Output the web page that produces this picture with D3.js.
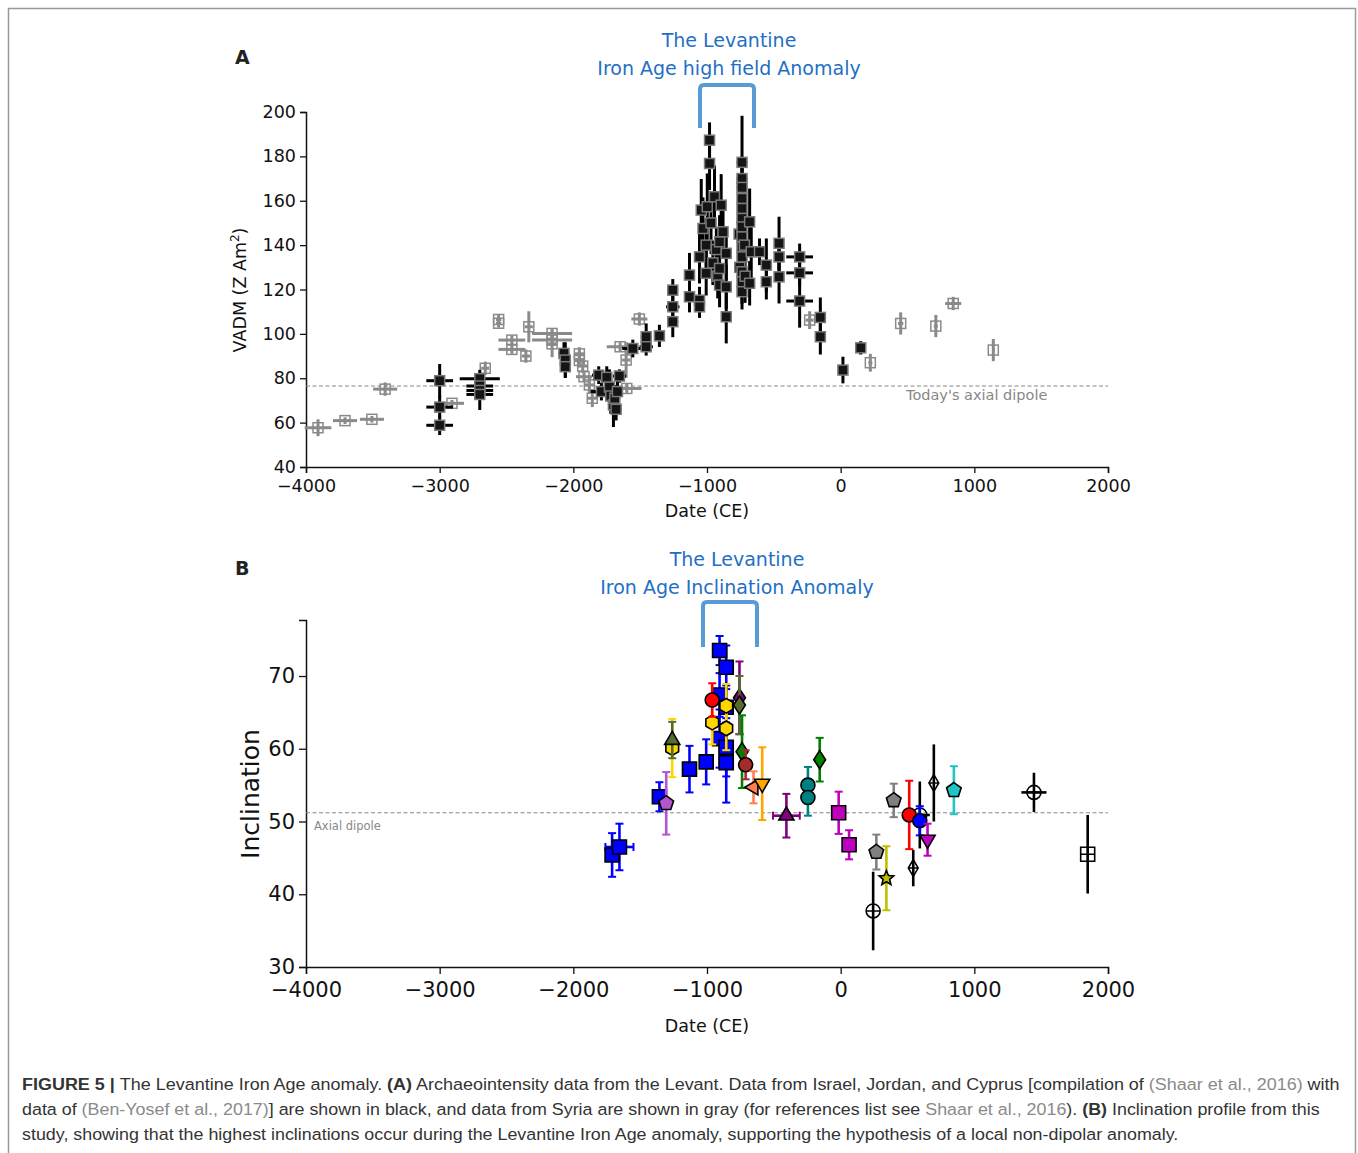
<!DOCTYPE html>
<html>
<head>
<meta charset="utf-8">
<script src="https://cdn.jsdelivr.net/npm/d3@7"></script>
<style>
  body { margin: 0; background: #fff; }
  svg { font-family: "DejaVu Sans", sans-serif; }
</style>
</head>
<body>
<script>
// ---- data: panel A, archaeointensity [date, VADM, dateErr, vadmErr]
const levantBlack = [
  [-3000, 78.9, 100, 7.5], [-3000, 67.0, 100, 5], [-3000, 58.8, 100, 4.4],
  [-2700, 79.8, 150, 4], [-2700, 76.5, 100, 4], [-2700, 74.5, 100, 3], [-2700, 72.7, 100, 7],
  [-2070, 91.2, 40, 5], [-2060, 88.2, 40, 8], [-2060, 85.2, 40, 5],
  [-1810, 81.4, 50, 4], [-1790, 74, 80, 4], [-1750, 80.4, 40, 5], [-1730, 76, 40, 8],
  [-1720, 72, 40, 8], [-1700, 68, 40, 10], [-1690, 71, 40, 6], [-1680, 66, 40, 5],
  [-1670, 74, 40, 5], [-1655, 81, 50, 3],
  [-1555, 93.4, 80, 4], [-1455, 98.7, 40, 6], [-1455, 94.2, 50, 4], [-1356, 99.1, 30, 5],
  [-1256, 119.7, 40, 5], [-1256, 112.2, 50, 6], [-1256, 105.5, 40, 7],
  [-1131, 126.5, 30, 10], [-1131, 116.7, 30, 7],
  [-1056, 115.2, 40, 6], [-1056, 112.2, 30, 5], [-1056, 134.7, 20, 12],
  [-1043, 155.8, 20, 14], [-1030, 147.5, 20, 14], [-1006, 140, 20, 12], [-1006, 127.3, 20, 10],
  [-998, 157.3, 20, 15], [-981, 187.3, 20, 8], [-981, 176.8, 20, 12], [-970, 150, 20, 14],
  [-956, 132, 20, 10], [-944, 161.8, 20, 14], [-930, 138, 20, 10], [-920, 126, 20, 10],
  [-906, 141.5, 20, 12], [-906, 129.5, 20, 10], [-906, 122, 20, 10], [-894, 158, 20, 14],
  [-880, 146, 20, 12], [-856, 136.3, 20, 12], [-856, 121.2, 20, 10], [-856, 107.7, 20, 12],
  [-760, 145, 20, 10], [-755, 130, 20, 10],
  [-738, 177.3, 40, 21], [-738, 170, 40, 10], [-738, 166, 40, 10], [-738, 161, 20, 10],
  [-738, 156.5, 20, 10], [-738, 152, 20, 10], [-738, 148.2, 20, 10], [-738, 143.7, 20, 10],
  [-738, 139.2, 20, 10], [-738, 134.7, 20, 10], [-738, 128, 20, 10], [-738, 123.5, 20, 10],
  [-738, 119, 20, 8], [-720, 140, 20, 10], [-715, 126, 20, 12],
  [-681, 150.5, 20, 15], [-681, 122.8, 20, 10], [-669, 137, 20, 12], [-607, 137, 30, 6],
  [-556, 131, 30, 12], [-556, 123.5, 30, 8],
  [-461, 140.8, 30, 12], [-461, 134.7, 30, 8], [-461, 125.7, 30, 12],
  [-307, 134.7, 100, 6], [-307, 127.5, 100, 6], [-307, 114.8, 100, 12],
  [-152, 107.4, 20, 9], [-152, 98.7, 20, 8],
  [17, 83.7, 30, 6], [150, 93.7, 40, 3]
];

const syriaGray = [
  [-3910, 57.7, 100, 3.8], [-3708, 60.9, 90, 1.5], [-3507, 61.5, 90, 1.5], [-3408, 75.1, 90, 3],
  [-2908, 68.7, 90, 1.5], [-2659, 84.5, 30, 3], [-2559, 106.5, 20, 2], [-2559, 104.8, 20, 2],
  [-2460, 97.2, 100, 2], [-2460, 93.0, 100, 2], [-2355, 90.0, 30, 3], [-2333, 103.2, 30, 7],
  [-2159, 100.2, 150, 2], [-2159, 97.2, 150, 2], [-2159, 95.5, 30, 6],
  [-1955, 91, 40, 3], [-1955, 88, 40, 3], [-1930, 85.5, 40, 3], [-1920, 80.7, 60, 2],
  [-1880, 77, 40, 4], [-1858, 71, 40, 4], [-1600, 75.4, 110, 2], [-1605, 88.2, 30, 8],
  [-1650, 94.2, 100, 2], [-1506, 106.7, 60, 3],
  [-232, 106.2, 30, 4], [222, 87, 15, 4], [449, 104.7, 20, 5], [712, 103.5, 15, 5],
  [842, 113.7, 60, 3], [1142, 92.7, 10, 5]
];

// ---- data: panel B, inclination [date, inclination, dateErr, incErr]
const blueSquares = [
  [-1710, 45.4, 25, 3], [-1655, 46.5, 105, 3.2], [-1356, 53.4, 30, 2], [-1131, 57.2, 0, 3.2],
  [-1006, 58.2, 0, 3.1], [-906, 73.5, 0, 2], [-856, 71.2, 0, 3], [-906, 67.4, 0, 3],
  [-856, 65.7, 0, 3], [-906, 61.4, 0, 4], [-856, 60.2, 0, 4], [-856, 58.1, 0, 5.5]
];
const orchidPentagons = [[-1305, 52.5, 0, 4.3]];
const oliveTriangles = [[-1260, 61.2, 0, 2.5]];
const goldHexagons = [[-1260, 60.1, 0, 4], [-961, 63.6, 0, 3], [-856, 65.9, 0, 3], [-856, 62.8, 0, 3]];
const redCircles = [[-961, 66.7, 0, 2.3], [513, 50.9, 0, 4.7]];
const purpleDiamonds = [[-757, 67.0, 25, 5]];
const oliveDiamonds = [[-757, 66.0, 0, 4]];
const greenDiamonds = [[-738, 59.6, 0, 5], [-157, 58.5, 20, 3]];
const brownCircles = [[-711, 57.8, 0, 2]];
const coralTriangles = [[-652, 54.7, 0, 2.2]];
const orangeTriangles = [[-587, 55.2, 0, 5]];
const purpleTriangles = [[-406, 50.8, 100, 3]];
const tealCircles = [[-245, 55.0, 15, 2.5], [-245, 53.3, 15, 2.5]];
const magentaSquares = [[-15, 51.2, 0, 2.9], [63, 46.8, 0, 2]];
const grayPentagons = [[267, 45.8, 0, 2.4], [397, 52.9, 0, 2.3]];
const yellowStars = [[342, 42.2, 20, 4.4]];
const blueCircles = [[592, 50.1, 0, 2]];
const magentaTriangles = [[650, 47.5, 0, 2.2]];
const cyanPentagons = [[847, 54.3, 0, 3.3]];
const openCirclePlus = [[243, 37.7, 0, 5.4], [592, 50.9, 75, 4.6], [1446, 54.0, 94, 2.7]];
const openDiamondPlus = [[543, 43.6, 0, 2.5], [697, 55.3, 0, 5.3]];
const openSquarePlus = [[1848, 45.5, 0, 5.4]];

const xTicks = [-4000, -3000, -2000, -1000, 0, 1000, 2000];
const vadmTicks = [40, 60, 80, 100, 120, 140, 160, 180, 200];
const incTicks = [30, 40, 50, 60, 70];
const todayDipoleVADM = 76.5;
const axialDipoleInc = 51.2;

// ---- svg
const svg = d3.select("body").append("svg")
  .attr("width", 1358)
  .attr("height", 1153);

// figure frame
svg.append("rect")
  .attr("x", 8.5).attr("y", 8.5)
  .attr("width", 1347).attr("height", 1160)
  .attr("fill", "none").attr("stroke", "#999").attr("stroke-width", 1.5);

const fmt = d => d < 0 ? "\u2212" + Math.abs(d) : String(d);

// scales
const xA = d3.scaleLinear().domain([-4000, 2000]).range([306, 1108]);
const yA = d3.scaleLinear().domain([40, 200]).range([467, 112]);
const xB = d3.scaleLinear().domain([-4000, 2000]).range([306, 1108]);
const yB = d3.scaleLinear().domain([30, 77.7]).range([967, 620]);

function drawAxes(x, y, xt, yt, fontSize, tickLen, xPad) {
  const gx = svg.append("g")
    .attr("transform", `translate(0,${y.range()[0]})`)
    .call(d3.axisBottom(x).tickValues(xt).tickFormat(fmt).tickSizeOuter(0)
      .tickSize(tickLen).tickPadding(xPad));
  const gy = svg.append("g")
    .attr("transform", `translate(${x.range()[0]},0)`)
    .call(d3.axisLeft(y).tickValues(yt).tickFormat(fmt).tickSizeOuter(0)
      .tickSize(tickLen).tickPadding(4));
  [gx, gy].forEach(g => {
    g.attr("font-family", null);
    g.selectAll("text").attr("font-size", fontSize).attr("fill", "#111");
    g.selectAll("line").attr("stroke", "#111").attr("stroke-width", 1.3);
    g.select(".domain").attr("stroke", "#111").attr("stroke-width", 1.5);
  });
}

// ===================== PANEL A =====================
drawAxes(xA, yA, xTicks, vadmTicks, 17.5, 6, 7);

svg.append("line")
  .attr("x1", xA(-4000)).attr("x2", xA(2000))
  .attr("y1", yA(todayDipoleVADM)).attr("y2", yA(todayDipoleVADM))
  .attr("stroke", "#888").attr("stroke-width", 1).attr("stroke-dasharray", "4,2.5");
svg.append("text")
  .attr("x", 906).attr("y", 400)
  .attr("font-size", 14.5).attr("fill", "#888")
  .text("Today's axial dipole");

function drawVadm(data, color, face, edge) {
  const g = svg.append("g");
  data.forEach(d => {
    const cx = xA(d[0]), cy = yA(d[1]);
    g.append("line")
      .attr("x1", xA(d[0] - d[2])).attr("x2", xA(d[0] + d[2]))
      .attr("y1", cy).attr("y2", cy)
      .attr("stroke", color).attr("stroke-width", 3);
    g.append("line")
      .attr("x1", cx).attr("x2", cx)
      .attr("y1", yA(d[1] - d[3])).attr("y2", yA(d[1] + d[3]))
      .attr("stroke", color).attr("stroke-width", 3);
  });
  g.selectAll("rect.m").data(data).enter().append("rect")
    .attr("class", "m")
    .attr("x", d => xA(d[0]) - 5).attr("y", d => yA(d[1]) - 5)
    .attr("width", 10).attr("height", 10)
    .attr("fill", face).attr("stroke", edge).attr("stroke-width", 1.5);
}
drawVadm(syriaGray, "#8a8a8a", "none", "#8a8a8a");
drawVadm(levantBlack, "#000", "#151515", "#7a7a7a");

// titles and brackets
function anomalyTitle(cx, y1, lines, bx1, bx2, by1, by2) {
  lines.forEach((t, i) => {
    svg.append("text")
      .attr("x", cx).attr("y", y1 + i * 28)
      .attr("text-anchor", "middle")
      .attr("font-size", 19).attr("fill", "#1f6fc4")
      .text(t);
  });
  svg.append("path")
    .attr("d", `M${bx1},${by2} L${bx1},${by1 + 4} Q${bx1},${by1} ${bx1 + 4},${by1} L${bx2 - 4},${by1} Q${bx2},${by1} ${bx2},${by1 + 4} L${bx2},${by2}`)
    .attr("fill", "none").attr("stroke", "#5b9bd5").attr("stroke-width", 4);
}
anomalyTitle(729, 47, ["The Levantine", "Iron Age high field Anomaly"], 700, 754, 85, 128);

svg.append("text").attr("x", 235).attr("y", 64)
  .attr("font-size", 19).attr("font-weight", "bold").attr("fill", "#222").text("A");

svg.append("text")
  .attr("transform", "translate(246,290) rotate(-90)")
  .attr("text-anchor", "middle")
  .attr("font-size", 17.5).attr("fill", "#111")
  .call(t => {
    t.append("tspan").text("VADM (Z Am");
    t.append("tspan").attr("baseline-shift", "super").attr("font-size", 12).text("2");
    t.append("tspan").text(")");
  });
svg.append("text")
  .attr("x", xA(-1000)).attr("y", 517)
  .attr("text-anchor", "middle").attr("font-size", 17.5).attr("fill", "#111")
  .text("Date (CE)");

// ===================== PANEL B =====================
drawAxes(xB, yB, xTicks, incTicks, 21, 7, 8);

svg.append("line")
  .attr("x1", xB(-4000)).attr("x2", xB(2000))
  .attr("y1", yB(axialDipoleInc)).attr("y2", yB(axialDipoleInc))
  .attr("stroke", "#888").attr("stroke-width", 1).attr("stroke-dasharray", "4,2.5");
svg.append("text")
  .attr("x", 314).attr("y", 830)
  .attr("font-size", 11.5).attr("fill", "#888")
  .text("Axial dipole");

function poly(n, r, startDeg) {
  const pts = d3.range(n).map(i => {
    const a = (startDeg + i * 360 / n) * Math.PI / 180;
    return [r * Math.cos(a), r * Math.sin(a)];
  });
  return "M" + pts.map(p => p.join(",")).join("L") + "Z";
}
function starPath(r) {
  const pts = d3.range(10).map(i => {
    const rr = i % 2 ? r * 0.45 : r;
    const a = (-90 + i * 36) * Math.PI / 180;
    return [rr * Math.cos(a), rr * Math.sin(a)];
  });
  return "M" + pts.map(p => p.join(",")).join("L") + "Z";
}
const shapes = {
  square: s => `M${-s},${-s}H${s}V${s}H${-s}Z`,
  circle: s => `M${s},0A${s},${s} 0 1,1 ${-s},0A${s},${s} 0 1,1 ${s},0Z`,
  hexagon: s => poly(6, s * 1.05, -90),
  pentagon: s => poly(5, s * 1.1, -90),
  triUp: s => poly(3, s * 1.25, -90),
  triDown: s => poly(3, s * 1.25, 90),
  triLeft: s => poly(3, s * 1.25, 180),
  diamond: s => `M0,${-s * 1.3}L${s * 0.85},0L0,${s * 1.3}L${-s * 0.85},0Z`,
  star: s => starPath(s * 1.1),
  circlePlus: s => shapes.circle(s) + `M${-s},0H${s}M0,${-s}V${s}`,
  diamondPlus: s => `M0,${-s * 1.2}L${s * 0.7},0L0,${s * 1.2}L${-s * 0.7},0Z` + `M${-s * 0.7},0H${s * 0.7}M0,${-s * 1.2}V${s * 1.2}`,
  squarePlus: s => shapes.square(s) + `M${-s},0H${s}M0,${-s}V${s}`
};

const layersB = [
  { data: openSquarePlus, shape: "squarePlus", face: "none", err: "#000", cap: 0 },
  { data: blueSquares, shape: "square", face: "#0000ff", err: "#0000ff", cap: 4 },
  { data: orchidPentagons, shape: "pentagon", face: "#b455cf", err: "#b455cf", cap: 4 },
  { data: goldHexagons, shape: "hexagon", face: "#ffd700", err: "#ffd700", cap: 4 },
  { data: oliveTriangles, shape: "triUp", face: "#556b2f", err: "#556b2f", cap: 4 },
  { data: purpleDiamonds, shape: "diamond", face: "#800080", err: "#800080", cap: 4 },
  { data: oliveDiamonds, shape: "diamond", face: "#556b2f", err: "#556b2f", cap: 4 },
  { data: greenDiamonds, shape: "diamond", face: "#008000", err: "#008000", cap: 4 },
  { data: brownCircles, shape: "circle", face: "#a52a2a", err: "#a52a2a", cap: 4 },
  { data: coralTriangles, shape: "triLeft", face: "#ff7f50", err: "#ff7f50", cap: 4 },
  { data: orangeTriangles, shape: "triDown", face: "#ffa500", err: "#ffa500", cap: 4 },
  { data: purpleTriangles, shape: "triUp", face: "#800080", err: "#800080", cap: 4 },
  { data: tealCircles, shape: "circle", face: "#008080", err: "#008080", cap: 4 },
  { data: magentaSquares, shape: "square", face: "#bf00bf", err: "#bf00bf", cap: 4 },
  { data: grayPentagons, shape: "pentagon", face: "#808080", err: "#808080", cap: 4 },
  { data: yellowStars, shape: "star", face: "#bfbf00", err: "#bfbf00", cap: 4 },
  { data: openCirclePlus, shape: "circlePlus", face: "none", err: "#000", cap: 0 },
  { data: redCircles, shape: "circle", face: "#ff0000", err: "#ff0000", cap: 4 },
  { data: blueCircles, shape: "circle", face: "#0000ff", err: "#0000ff", cap: 4 },
  { data: magentaTriangles, shape: "triDown", face: "#bf00bf", err: "#bf00bf", cap: 4 },
  { data: openDiamondPlus, shape: "diamondPlus", face: "none", err: "#000", cap: 0 },
  { data: cyanPentagons, shape: "pentagon", face: "#1fc4c4", err: "#1fc4c4", cap: 4 }
];

layersB.forEach(layer => {
  const g = svg.append("g");
  layer.data.forEach(d => {
    const cx = xB(d[0]), cy = yB(d[1]);
    const top = yB(d[1] + d[3]), bot = yB(d[1] - d[3]);
    g.append("line").attr("x1", cx).attr("x2", cx).attr("y1", top).attr("y2", bot)
      .attr("stroke", layer.err).attr("stroke-width", 2.6);
    if (layer.cap) {
      [top, bot].forEach(yy => g.append("line")
        .attr("x1", cx - layer.cap).attr("x2", cx + layer.cap).attr("y1", yy).attr("y2", yy)
        .attr("stroke", layer.err).attr("stroke-width", 2));
    }
    if (d[2] > 0) {
      const l = xB(d[0] - d[2]), r = xB(d[0] + d[2]);
      g.append("line").attr("x1", l).attr("x2", r).attr("y1", cy).attr("y2", cy)
        .attr("stroke", layer.err).attr("stroke-width", 2.6);
      if (layer.cap) {
        [l, r].forEach(xx => g.append("line")
          .attr("x1", xx).attr("x2", xx).attr("y1", cy - layer.cap).attr("y2", cy + layer.cap)
          .attr("stroke", layer.err).attr("stroke-width", 2));
      }
    }
  });
  g.selectAll("path.m").data(layer.data).enter().append("path")
    .attr("class", "m")
    .attr("transform", d => `translate(${xB(d[0])},${yB(d[1])})`)
    .attr("d", shapes[layer.shape](7))
    .attr("fill", layer.face)
    .attr("stroke", "#000").attr("stroke-width", 1.6);
});

anomalyTitle(737, 566, ["The Levantine", "Iron Age Inclination Anomaly"], 703, 757, 602, 647);

svg.append("text").attr("x", 235).attr("y", 575)
  .attr("font-size", 19).attr("font-weight", "bold").attr("fill", "#222").text("B");

svg.append("text")
  .attr("transform", "translate(259,794) rotate(-90)")
  .attr("text-anchor", "middle")
  .attr("font-size", 25).attr("fill", "#111")
  .text("Inclination");
svg.append("text")
  .attr("x", xB(-1000)).attr("y", 1032)
  .attr("text-anchor", "middle").attr("font-size", 17.5).attr("fill", "#111")
  .text("Date (CE)");

// ===================== CAPTION =====================
const captionLines = [
  { y: 1090, width: 1318, parts: [
    ["FIGURE 5 | ", "b"], ["The Levantine Iron Age anomaly. ", ""], ["(A)", "b"],
    [" Archaeointensity data from the Levant. Data from Israel, Jordan, and Cyprus [compilation of ", ""],
    ["(Shaar et al., 2016)", "g"], [" with", ""]] },
  { y: 1115, width: 1298, parts: [
    ["data of ", ""], ["(Ben-Yosef et al., 2017)", "g"],
    ["] are shown in black, and data from Syria are shown in gray (for references list see ", ""],
    ["Shaar et al., 2016", "g"], ["). ", ""], ["(B)", "b"], [" Inclination profile from this", ""]] },
  { y: 1140, width: null, parts: [
    ["study, showing that the highest inclinations occur during the Levantine Iron Age anomaly, supporting the hypothesis of a local non-dipolar anomaly.", ""]] }
];
let scaleX = 1;
captionLines.forEach(line => {
  const t = svg.append("text")
    .attr("x", 0).attr("y", 0)
    .attr("font-family", "'Liberation Sans', Arial, sans-serif")
    .attr("font-size", 17).attr("fill", "#333");
  line.parts.forEach(p => {
    t.append("tspan").text(p[0])
      .attr("font-weight", p[1] === "b" ? "bold" : null)
      .attr("fill", p[1] === "g" ? "#8a8a8a" : null);
  });
  const w = t.node().getComputedTextLength();
  if (line.width) scaleX = line.width / w;
  t.attr("transform", `translate(22,${line.y}) scale(${scaleX},1)`);
});
</script>
</body>
</html>
